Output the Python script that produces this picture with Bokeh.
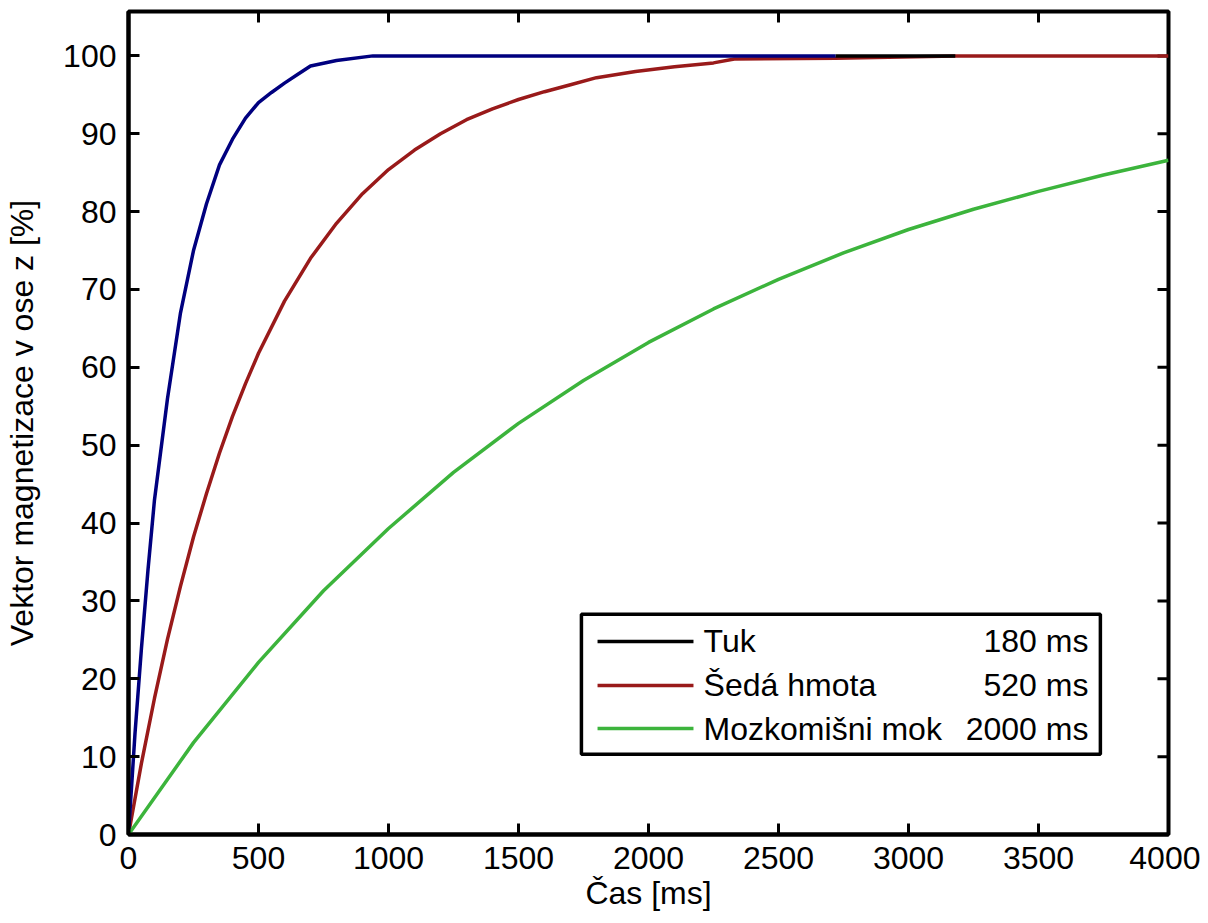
from bokeh.plotting import figure
from bokeh.models import Range1d, FixedTicker
from bokeh.core.properties import value
from bokeh.embed import file_html
from bokeh.resources import INLINE

# ---------------- data ----------------
x_ticks = [0, 500, 1000, 1500, 2000, 2500, 3000, 3500, 4000]
y_ticks = [0, 10, 20, 30, 40, 50, 60, 70, 80, 90, 100]

tuk_t = [0, 25, 50, 75, 100, 150, 200, 250, 300, 350, 400, 450, 500, 550,
         600, 650, 700, 800, 940, 1500, 2000, 2720]
tuk_v = [0, 13, 24, 34, 43, 56, 67, 75, 81, 86, 89.3, 92, 94, 95.3,
         96.5, 97.6, 98.7, 99.4, 100, 100, 100, 100]
tuk_tail_t = [2720, 3180]
tuk_tail_v = [100, 100]

seda_t = [0, 50, 100, 150, 200, 250, 300, 350, 400, 450, 500, 600, 700, 800,
          900, 1000, 1100, 1200, 1300, 1400, 1500, 1600, 1700, 1800, 1950,
          2100, 2250, 2330, 2720, 3180, 4000]
seda_v = [0, 9.2, 17.5, 25.1, 31.9, 38.2, 43.8, 49.0, 53.7, 57.9, 61.8, 68.5,
          74.0, 78.5, 82.3, 85.4, 87.9, 90.0, 91.8, 93.2, 94.4, 95.4, 96.3,
          97.2, 98.0, 98.6, 99.1, 99.6, 99.7, 100, 100]

mok_t = [0, 250, 500, 750, 1000, 1250, 1500, 1750, 2000, 2250, 2500, 2750,
         3000, 3250, 3500, 3750, 4000]
mok_v = [0, 11.8, 22.1, 31.3, 39.3, 46.5, 52.8, 58.3, 63.2, 67.5, 71.3, 74.7,
         77.7, 80.3, 82.6, 84.7, 86.6]

legend_names = ["Tuk", "Šedá hmota", "Mozkomišni mok"]
legend_times = ["180 ms", "520 ms", "2000 ms"]
legend_colors = ["#000000", "#991a1a", "#3cb43c"]

# ---------------- styles ----------------
FONT = "'Liberation Sans', sans-serif"
BLUE = "#00007f"
RED = "#991a1a"
GREEN = "#3cb43c"
FS = "32px"
X_MAX = 4000
Y_MAX = 105.7

p = figure(width=1200, height=922, output_backend="svg", toolbar_location=None,
           x_range=Range1d(0, X_MAX), y_range=Range1d(0, Y_MAX),
           min_border_left=128, min_border_right=32, min_border_top=11,
           min_border_bottom=88)
p.xgrid.visible = False
p.ygrid.visible = False
p.outline_line_color = "black"
p.outline_line_width = 4
p.background_fill_color = "white"
p.border_fill_color = "white"

for ax in (p.xaxis[0], p.yaxis[0]):
    ax.axis_line_width = 4
    ax.major_tick_in = 11
    ax.major_tick_out = 0
    ax.major_tick_line_width = 3
    ax.minor_tick_line_color = None
    ax.major_label_text_font = FONT
    ax.major_label_text_font_size = FS
    ax.major_label_text_color = "black"
    ax.axis_label_text_font = FONT
    ax.axis_label_text_font_size = FS
    ax.axis_label_text_font_style = "normal"
    ax.axis_label_text_color = "black"

p.xaxis[0].ticker = FixedTicker(ticks=x_ticks)
p.yaxis[0].ticker = FixedTicker(ticks=y_ticks)
p.xaxis[0].major_label_standoff = 12
p.yaxis[0].major_label_standoff = 12
p.xaxis[0].axis_label = "Čas [ms]"
p.xaxis[0].axis_label_standoff = 3
p.yaxis[0].axis_label = "Vektor magnetizace v ose z [%]"
p.yaxis[0].axis_label_standoff = 20

# inward ticks on the top and right edges of the box (from the tick lists)
tick_dx = X_MAX * 11 / 1040
tick_dy = Y_MAX * 11 / 823
p.segment(x0=x_ticks, y0=[Y_MAX] * len(x_ticks), x1=x_ticks,
          y1=[Y_MAX - tick_dy] * len(x_ticks), line_color="black", line_width=3)
p.segment(x0=[X_MAX] * len(y_ticks), y0=y_ticks, x1=[X_MAX - tick_dx] * len(y_ticks),
          y1=y_ticks, line_color="black", line_width=3)

# curves
p.line(seda_t, seda_v, line_color=RED, line_width=3.5)
p.line(tuk_t, tuk_v, line_color=BLUE, line_width=3.5)
p.line(tuk_tail_t, tuk_tail_v, line_color="black", line_width=3.5)
p.line(mok_t, mok_v, line_color=GREEN, line_width=3.5)

# legend (manual, to keep the right-aligned time column)
p.quad(left=[1742], right=[3738], bottom=[10.3], top=[28.3],
       fill_color="white", line_color="black", line_width=3.5)
rows = [24.8, 19.15, 13.6]
for r, c in zip(rows, legend_colors):
    p.line([1804, 2173], [r, r], line_color=c, line_width=3.5)
p.text(x=[2212] * 3, y=rows, text=legend_names, text_font=value(FONT),
       text_font_size=FS, text_baseline="middle", text_align="left",
       text_color="black")
p.text(x=[3692] * 3, y=rows, text=legend_times, text_font=value(FONT),
       text_font_size=FS, text_baseline="middle", text_align="right",
       text_color="black")

open("out.html", "w").write(file_html(p, INLINE))
